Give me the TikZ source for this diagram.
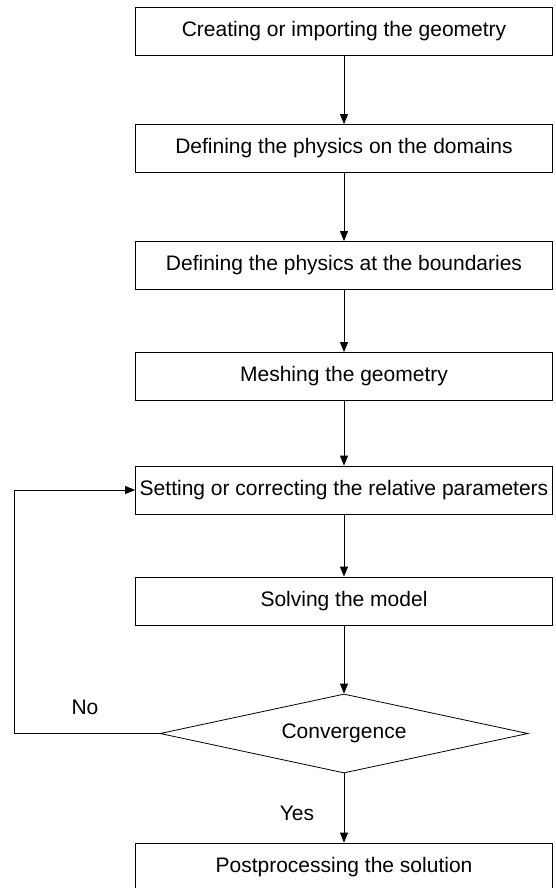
\documentclass[tikz,border=0pt]{standalone}
\usepackage{fontspec}
\setmainfont{Liberation Sans}
\usetikzlibrary{arrows.meta,shapes.geometric}

\tikzset{
	stepbox/.style={draw, line width=0.8pt, minimum width=417pt, minimum height=48pt, inner sep=2pt},
	testbox/.style={draw, diamond, shape aspect=4.66, line width=0.8pt, minimum width=368pt, minimum height=79pt, inner sep=0pt}
}

\begin{document}
\begin{tikzpicture}[x=1pt, y=-1pt, >={Triangle[length=10pt,width=8pt]}, line width=0.8pt,
	font=\fontsize{21}{25}\selectfont]
	\useasboundingbox (0, 0) rectangle (555, 888);
	\node [stepbox] (geom) at (344, 31) {Creating or importing the geometry};
	\node [stepbox] (dom) at (344, 148.5) {Defining the physics on the domains};
	\node [stepbox] (bnd) at (344, 265.5) {Defining the physics at the boundaries};
	\node [stepbox] (mesh) at (344, 376.5) {Meshing the geometry};
	\node [stepbox] (param) at (344, 490) {Setting or correcting the relative parameters};
	\node [stepbox] (solve) at (344, 601) {Solving the model};
	\node [testbox] (conv) at (344, 733.5) {Convergence};
	\node [stepbox] (post) at (344, 867) {Postprocessing the solution};
	\node (no) at (85, 707) {No};
	\node (yes) at (297, 813) {Yes};
	\coordinate (back) at (14, 733.5);
	\draw [->] (geom) -- (dom);
	\draw [->] (dom) -- (bnd);
	\draw [->] (bnd) -- (mesh);
	\draw [->] (mesh) -- (param);
	\draw [->] (param) -- (solve);
	\draw [->] (solve) -- (conv);
	\draw [->] (conv) -- (post);
	\draw [->] (conv.west) -- (back) |- (param.west);
\end{tikzpicture}
\end{document}
